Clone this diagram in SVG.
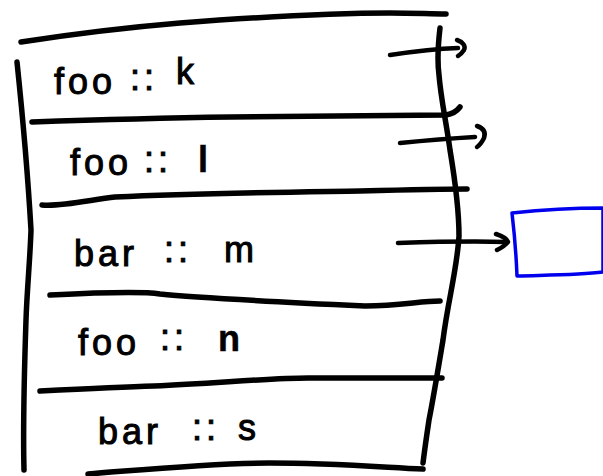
<svg xmlns="http://www.w3.org/2000/svg" width="603" height="476" viewBox="0 0 603 476">
<style>
.ink{fill:none;stroke:#000;stroke-width:5.5;stroke-linecap:round;stroke-linejoin:round}
.thin{fill:none;stroke:#000;stroke-width:4.5;stroke-linecap:round;stroke-linejoin:round}
.lbl{font-family:"Liberation Sans","DejaVu Sans",sans-serif;font-size:36px;fill:#000;stroke:#000;stroke-width:1;letter-spacing:4px}
.b{font-weight:bold;stroke-width:0.5}
.box{fill:#fff;stroke:#0000ee;stroke-width:3.5;stroke-linejoin:round}
</style>
<rect width="603" height="476" fill="#fff"/>
<g id="table">
<path class="ink" d="M21,42 C60,36 120,28 180,23 C260,17 330,13 390,13 C415,13 430,14 446,14"/>
<path class="ink" d="M17,62 C22,110 27,160 31,230 C30,260 27,290 26,320 C24,380 23,430 24,470"/>
<path class="ink" d="M440,28 C438,45 437,60 439,75 C441,100 446,120 450,150 C455,180 459,210 459,236 C457,270 448,300 443,340 C438,370 433,400 429,420 C426,440 424,455 423,463"/>
<path class="ink" d="M32,122 C90,120 160,118 231,117 C320,116 400,116 446,115 C452,114 457,111 460,107"/>
<path class="ink" d="M42,205 C60,207 90,200 115,197 C200,193 300,192 360,191 C400,190 440,189 467,189"/>
<path class="ink" d="M50,295 C90,293 140,291 160,294 C200,298 280,302 365,306 C400,306 420,301 440,301"/>
<path class="ink" d="M40,391 C80,389 120,387 154,386 C220,383 270,378 308,378 C360,378 410,378 442,378"/>
<path class="ink" d="M88,474 C140,470 210,463 269,463 C330,463 380,467 423,469"/>
</g>
<g id="row-k"><text class="lbl"><tspan x="54" y="94">foo</tspan><tspan x="130" y="90">::</tspan><tspan x="176" y="84">k</tspan></text></g>
<g id="row-l"><text class="lbl"><tspan x="70" y="175">foo</tspan><tspan x="144" y="172">::</tspan><tspan x="198" y="172" class="b">l</tspan></text></g>
<g id="row-m"><text class="lbl"><tspan x="74" y="266">bar</tspan><tspan x="164" y="262">::</tspan><tspan x="224" y="262">m</tspan></text></g>
<g id="row-n"><text class="lbl"><tspan x="78" y="355">foo</tspan><tspan x="160" y="350">::</tspan><tspan x="218" y="351" class="b">n</tspan></text></g>
<g id="row-s"><text class="lbl"><tspan x="98" y="444">bar</tspan><tspan x="192" y="440">::</tspan><tspan x="238" y="440">s</tspan></text></g>
<g id="target"><path class="box" d="M512,213 C540,210 570,208 603,208 L603,272 C580,275 550,275 517,276 C516,250 514,230 512,213 Z"/></g>
<g id="connectors">
<path class="thin" d="M390,55 C410,52 430,49 458,48"/>
<path class="thin" d="M457,40 C463,42 466,46 464,50 C462,53 460,55 458,56"/>
<path class="thin" d="M400,143 C420,141 440,139 475,137"/>
<path class="thin" d="M477,126 C483,128 486,132 484,138 C482,142 480,145 477,147"/>
<path class="thin" d="M398,243 C430,242 470,241 506,242"/>
<path class="thin" d="M496,234 C502,236 507,239 508,242 C505,246 501,248 497,250"/>
</g>
</svg>
